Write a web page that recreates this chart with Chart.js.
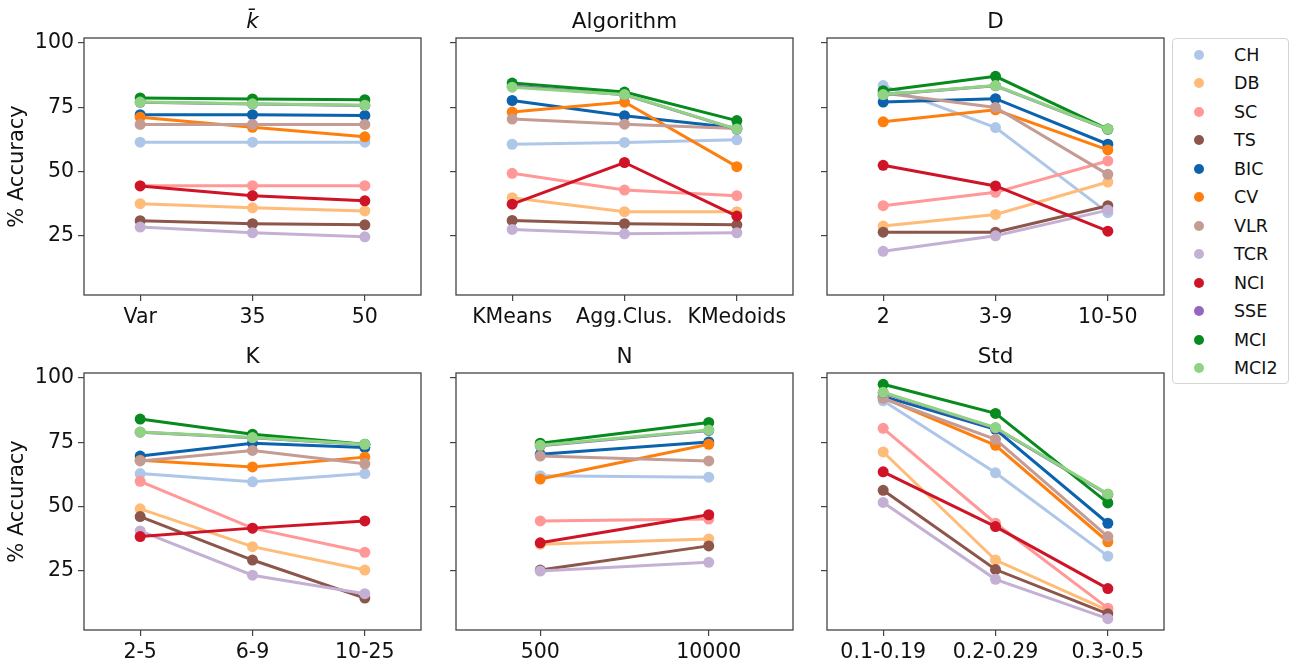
<!DOCTYPE html>
<html lang="en">
<head>
  <meta charset="UTF-8">
  <title>% Accuracy by setting</title>
  <script src="https://cdn.jsdelivr.net/npm/chart.js"></script>
  <style>
    body { margin: 0; background: #fff; width: 1303px; height: 664px; position: relative; overflow: hidden; font-family: 'DejaVu Sans', sans-serif; }
    canvas.panel { position: absolute; }
    #legend { position: absolute; left: 1172px; top: 38px; width: 117px; height: 346px; border: 1px solid #d4d4d4; border-radius: 4px; box-sizing: border-box; background: #fff; }
    .item { position: absolute; left: 0; height: 20px; width: 110px; font-size: 17.5px; line-height: 20px; color: #111; }
    .dot { position: absolute; left: 21px; top: 5px; width: 10px; height: 10px; border-radius: 50%; }
    .lbl { position: absolute; left: 61px; white-space: nowrap; }
  </style>
</head>
<body>
  <canvas class="panel" id="p0"></canvas>
  <canvas class="panel" id="p1"></canvas>
  <canvas class="panel" id="p2"></canvas>
  <canvas class="panel" id="p3"></canvas>
  <canvas class="panel" id="p4"></canvas>
  <canvas class="panel" id="p5"></canvas>
  <div id="legend"></div>

  <script>
    // series (drawn in this order, last on top)
    const seriesNames = ['CH', 'DB', 'SC', 'TS', 'BIC', 'CV', 'VLR', 'TCR', 'NCI', 'SSE', 'MCI', 'MCI2'];
    const seriesColors = ['#aec7e8', '#ffbb78', '#ff9896', '#8c564b', '#0b62ad', '#ff7f0e',
                          '#c49c94', '#c5b0d5', '#cf1427', '#9467bd', '#078a1e', '#8fd383'];
    const yTicks = [25, 50, 75, 100];

    // one row per series, same order as seriesNames
    const kbarLabels = ['Var', '35', '50'];
    const kbarValues = [
      [61.4, 61.4, 61.4], [37.5, 35.9, 34.7], [44.5, 44.5, 44.5], [30.9, 29.7, 29.3],
      [72.1, 72.1, 71.8], [71.1, 67.2, 63.5], [68.3, 68.3, 68.3], [28.4, 26.2, 24.6],
      [44.4, 40.6, 38.6], [76.9, 76.2, 75.7], [78.6, 78.2, 77.9], [77.0, 76.3, 75.8]
    ];

    const algoLabels = ['KMeans', 'Agg.Clus.', 'KMedoids'];
    const algoValues = [
      [60.6, 61.3, 62.3], [39.8, 34.4, 34.4], [49.3, 42.8, 40.6], [31.0, 29.7, 29.3],
      [77.6, 71.7, 66.9], [73.1, 77.0, 51.9], [70.4, 68.4, 66.7], [27.5, 25.8, 26.2],
      [37.3, 53.5, 32.7], [83.2, 79.8, 66.4], [84.4, 80.9, 69.8], [82.8, 79.9, 66.5]
    ];

    const dLabels = ['2', '3-9', '10-50'];
    const dValues = [
      [83.4, 67.1, 34.0], [28.8, 33.3, 45.9], [36.7, 41.9, 54.1], [26.4, 26.4, 36.7],
      [77.0, 78.3, 60.6], [69.3, 74.0, 58.4], [80.5, 74.9, 48.9], [19.0, 25.0, 35.0],
      [52.4, 44.4, 26.8], [79.8, 83.3, 66.4], [81.4, 87.0, 66.5], [79.9, 83.4, 66.5]
    ];

    const kLabels = ['2-5', '6-9', '10-25'];
    const kValues = [
      [62.8, 59.6, 62.8], [49.1, 34.4, 25.3], [59.8, 41.6, 32.2], [46.1, 29.2, 14.4],
      [69.6, 74.6, 72.9], [68.0, 65.4, 69.2], [67.7, 71.8, 66.6], [40.5, 23.3, 16.1],
      [38.3, 41.6, 44.4], [78.9, 76.7, 74.1], [84.0, 78.1, 74.2], [79.0, 76.8, 74.2]
    ];

    const nLabels = ['500', '10000'];
    const nValues = [
      [62.0, 61.4], [35.3, 37.4], [44.4, 45.1], [25.3, 34.7],
      [70.3, 75.1], [60.7, 74.2], [69.6, 67.7], [24.9, 28.3],
      [35.9, 46.8], [73.6, 79.5], [74.6, 82.7], [73.8, 79.7]
    ];

    const stdLabels = ['0.1-0.19', '0.2-0.29', '0.3-0.5'];
    const stdValues = [
      [91.1, 63.1, 30.7], [71.2, 29.2, 9.6], [80.4, 43.5, 10.5], [56.3, 25.5, 8.3],
      [92.8, 80.0, 43.5], [92.2, 73.8, 36.3], [92.0, 76.1, 38.3], [51.6, 21.7, 6.4],
      [63.5, 42.2, 18.1], [94.2, 80.5, 54.7], [97.5, 86.2, 51.4], [94.4, 80.7, 54.9]
    ];

    Chart.defaults.font.family = "'DejaVu Sans', sans-serif";
    Chart.defaults.color = '#111';

    const AX = '#444';
    const PLOT_W = 337, PLOT_H = 257, PAD_L = 84, PAD_T = 38, PAD_B = 45, PAD_R = 10;

    // frame around the plot area + panel title centred on it
    function framePlugin(title, italic) {
      return {
        id: 'frame',
        afterDraw(chart) {
          const { ctx, chartArea: a } = chart;
          ctx.save();
          ctx.strokeStyle = AX;
          ctx.lineWidth = 1.3;
          ctx.strokeRect(a.left, a.top, a.right - a.left, a.bottom - a.top);
          ctx.fillStyle = '#111';
          ctx.font = (italic ? 'italic ' : '') + "21.5px 'DejaVu Sans'";
          ctx.textAlign = 'center';
          ctx.textBaseline = 'alphabetic';
          ctx.fillText(title, (a.left + a.right) / 2, a.top - 10);
          ctx.restore();
        }
      };
    }

    function makePanel(id, left, top, title, labels, values, showY, italic) {
      const el = document.getElementById(id);
      el.width = PAD_L + PLOT_W + PAD_R;
      el.height = PAD_T + PLOT_H + PAD_B;
      el.style.left = (left - PAD_L) + 'px';
      el.style.top = (top - PAD_T) + 'px';

      const n = seriesNames.length;
      return new Chart(el, {
        type: 'line',
        data: {
          labels: labels,
          datasets: seriesNames.map((name, i) => ({
            label: name,
            data: values[i],
            borderColor: seriesColors[i],
            backgroundColor: seriesColors[i],
            borderWidth: 3,
            pointRadius: 5.5,
            pointHoverRadius: 5.5,
            pointBorderWidth: 0,
            tension: 0,
            order: n - i
          }))
        },
        options: {
          responsive: false,
          animation: false,
          events: [],
          layout: { padding: { top: PAD_T, right: PAD_R, left: 0, bottom: 0 }, autoPadding: false },
          plugins: { legend: { display: false }, tooltip: { enabled: false } },
          scales: {
            x: {
              type: 'category',
              offset: true,
              border: { display: false },
              grid: { drawOnChartArea: false, drawTicks: true, tickLength: 6, color: AX, lineWidth: 1.2, offset: false },
              ticks: { font: { size: 20.5 }, padding: 4, maxRotation: 0, autoSkip: false },
              afterFit: s => { s.height = PAD_B; }
            },
            y: {
              min: 2.0,
              max: 101.9,
              border: { display: false },
              grid: { drawOnChartArea: false, drawTicks: true, tickLength: 6, color: AX, lineWidth: 1.2 },
              afterBuildTicks: s => { s.ticks = yTicks.map(v => ({ value: v })); },
              ticks: { font: { size: 20.5 }, padding: 4, callback: v => showY ? String(v) : '' },
              title: { display: showY, text: '% Accuracy', font: { size: 21 }, padding: { top: 5, bottom: 0 } },
              afterFit: s => { s.width = PAD_L; }
            }
          }
        },
        plugins: [framePlugin(title, italic)]
      });
    }

    makePanel('p0', 84, 38, 'k\u0304', kbarLabels, kbarValues, true, true);
    makePanel('p1', 456, 38, 'Algorithm', algoLabels, algoValues, false, false);
    makePanel('p2', 827, 38, 'D', dLabels, dValues, false, false);
    makePanel('p3', 84, 373, 'K', kLabels, kValues, true, false);
    makePanel('p4', 456, 373, 'N', nLabels, nValues, false, false);
    makePanel('p5', 827, 373, 'Std', stdLabels, stdValues, false, false);

    // legend
    const legend = document.getElementById('legend');
    seriesNames.forEach((name, i) => {
      const item = document.createElement('div');
      item.className = 'item';
      item.style.top = (6 + 28.45 * i) + 'px';
      item.innerHTML = '<span class="dot" style="background:' + seriesColors[i] + '"></span><span class="lbl">' + name + '</span>';
      legend.appendChild(item);
    });
  </script>
</body>
</html>
